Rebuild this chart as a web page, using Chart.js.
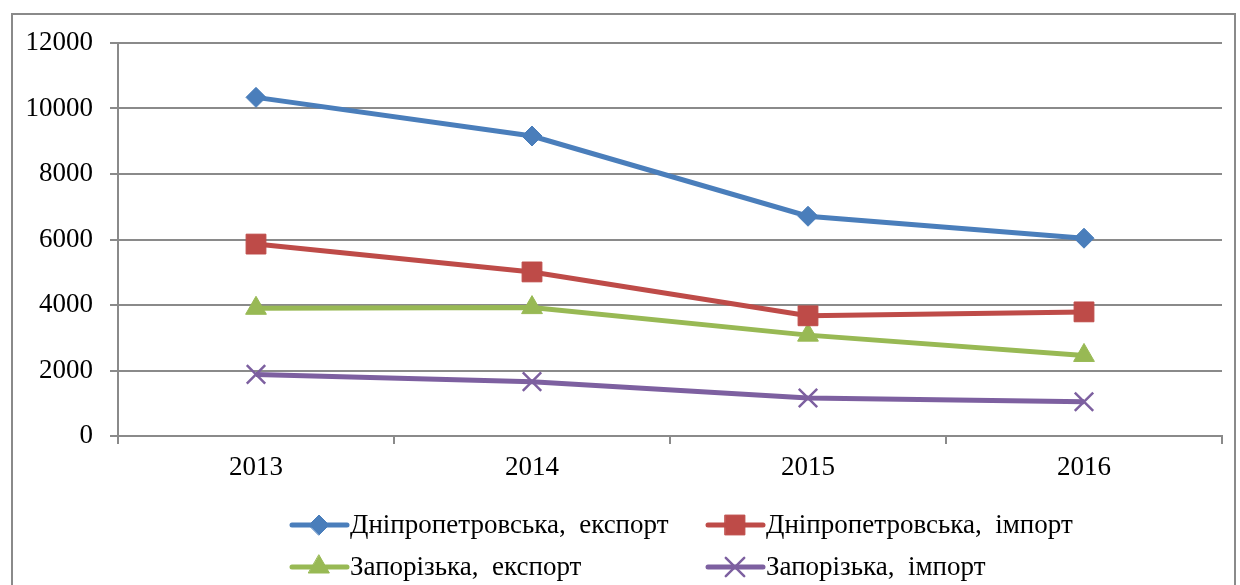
<!DOCTYPE html>
<html>
<head>
<meta charset="utf-8">
<script src="https://cdn.jsdelivr.net/npm/chart.js@4.4.0/dist/chart.umd.min.js"></script>
<style>
  html, body { margin: 0; padding: 0; background: #fff; }
  #wrap { width: 1240px; height: 585px; position: relative; }
</style>
</head>
<body>
<div id="wrap"><canvas id="chart" width="1240" height="585"></canvas></div>
<script>
const years = ["2013", "2014", "2015", "2016"];
const dniproExport = [10340, 9160, 6710, 6040];
const dniproImport = [5860, 5010, 3670, 3790];
const zapExport = [3900, 3920, 3080, 2460];
const zapImport = [1880, 1660, 1160, 1045];
const yTicks = [0, 2000, 4000, 6000, 8000, 10000, 12000];

const gridGrey = "#8a8a8a";
const serif = "'Liberation Serif', 'Times New Roman', serif";
const fontPx = 27;

function series(label, data, color, style, radius, borderW) {
  return {
    label: label,
    data: data,
    borderColor: color,
    backgroundColor: color,
    borderWidth: 5,
    pointStyle: style,
    pointRadius: radius,
    pointHoverRadius: radius,
    pointBorderWidth: borderW,
    pointBorderColor: color,
    pointBackgroundColor: color,
    tension: 0,
  };
}

// frame around the whole chart
const framePlugin = {
  id: "frame",
  beforeDraw(chart) {
    const ctx = chart.ctx;
    ctx.save();
    ctx.strokeStyle = gridGrey;
    ctx.lineWidth = 2;
    ctx.strokeRect(12, 14, 1223, 600);
    ctx.restore();
  },
};

// Excel-like legend: line with marker, two columns
const legendPlugin = {
  id: "excelLegend",
  afterDraw(chart) {
    const ctx = chart.ctx;
    const spots = [
      [292, 525], [708, 525],
      [292, 567], [708, 567],
    ];
    chart.data.datasets.forEach((ds, i) => {
      const [x, y] = spots[i];
      ctx.save();
      ctx.strokeStyle = ds.borderColor;
      ctx.lineWidth = 5;
      ctx.lineCap = "round";
      ctx.beginPath();
      ctx.moveTo(x, y);
      ctx.lineTo(x + 55, y);
      ctx.stroke();
      ctx.fillStyle = ds.borderColor;
      ctx.lineWidth = ds.pointBorderWidth;
      Chart.helpers.drawPoint(ctx, {
        pointStyle: ds.pointStyle,
        radius: ds.pointRadius,
        borderWidth: ds.pointBorderWidth,
        rotation: 0,
      }, x + 27, y);
      ctx.fillStyle = "#000";
      ctx.font = fontPx + "px " + serif;
      ctx.textBaseline = "middle";
      ctx.fillText(ds.label, x + 58, y + 1);
      ctx.restore();
    });
  },
};

new Chart(document.getElementById("chart"), {
  type: "line",
  data: {
    labels: years,
    datasets: [
      series("Дніпропетровська,  експорт", dniproExport, "#4a7ebb", "rectRot", 10, 1),
      series("Дніпропетровська,  імпорт", dniproImport, "#be4b48", "rect", 14, 1),
      series("Запорізька,  експорт", zapExport, "#98b954", "triangle", 12, 1),
      series("Запорізька,  імпорт", zapImport, "#7d60a0", "crossRot", 13, 2.5),
    ],
  },
  options: {
    responsive: false,
    animation: false,
    devicePixelRatio: 1,
    layout: { padding: { top: 43, right: 18, left: 0, bottom: 0 } },
    plugins: {
      legend: { display: false },
      tooltip: { enabled: false },
    },
    scales: {
      x: {
        offset: true,
        grid: {
          offset: true,
          drawOnChartArea: false,
          drawTicks: true,
          tickLength: 8,
          color: gridGrey,
          lineWidth: 2,
        },
        border: { color: gridGrey, width: 2 },
        ticks: {
          color: "#000",
          font: { family: serif, size: fontPx },
          padding: 8,
          maxRotation: 0,
        },
        afterFit(scale) { scale.height = 149; },
      },
      y: {
        min: 0,
        max: 12000,
        afterBuildTicks(scale) {
          scale.ticks = yTicks.map(v => ({ value: v }));
        },
        grid: {
          color: gridGrey,
          lineWidth: 2,
          tickLength: 8,
        },
        border: { color: gridGrey, width: 2 },
        ticks: {
          color: "#000",
          font: { family: serif, size: fontPx },
          padding: 17,
          callback: v => String(v),
        },
        afterFit(scale) { scale.width = 118; },
      },
    },
  },
  plugins: [framePlugin, legendPlugin],
});
</script>
</body>
</html>
